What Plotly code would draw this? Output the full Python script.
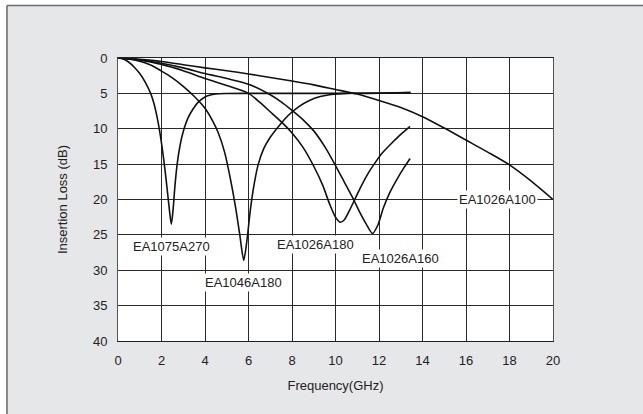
import plotly.graph_objects as go

# ---- data ----
f_a270 = [0, 0.25, 0.5, 0.75, 1.0, 1.25, 1.5, 1.65, 1.8, 1.95, 2.1, 2.22, 2.34, 2.45, 2.53, 2.62, 2.72, 2.85, 3.0, 3.2, 3.45, 3.7, 4.0, 4.5, 5.0, 6, 8, 10, 12, 13.45]
db_a270 = [0, 0.15, 0.6, 1.3, 2.2, 3.4, 5.0, 6.4, 8.4, 11.0, 14.3, 17.4, 20.8, 23.5, 21.5, 18.0, 15.0, 12.4, 10.4, 8.6, 7.2, 6.2, 5.5, 5.1, 5.02, 5.0, 5.0, 5.0, 4.95, 4.9]

f_a46 = [0, 0.5, 1.0, 1.5, 2.0, 2.5, 3.0, 3.5, 4.0, 4.3, 4.6, 4.9, 5.15, 5.4, 5.6, 5.78, 5.92, 6.08, 6.25, 6.45, 6.7, 7.0, 7.4, 7.8, 8.3, 8.8, 9.3, 9.8, 10.5, 11.5, 12.5, 13.45]
db_a46 = [0, 0.12, 0.45, 1.0, 1.85, 2.8, 4.0, 5.4, 7.1, 8.6, 10.5, 13.3, 16.8, 21.0, 25.0, 28.6, 26.0, 21.6, 18.0, 15.0, 12.8, 11.2, 9.6, 8.2, 6.9, 6.0, 5.45, 5.15, 5.0, 5.0, 4.95, 4.9]

f_a180 = [0, 1, 2, 3, 4, 5, 6, 6.5, 7, 7.5, 8, 8.5, 9, 9.4, 9.75, 10.0, 10.2, 10.4, 10.65, 10.9, 11.2, 11.5, 11.8, 12.1, 12.5, 13.0, 13.43]
db_a180 = [0, 0.3, 0.9, 1.8, 2.9, 3.9, 5.0, 6.2, 7.6, 9.0, 10.6, 12.6, 15.3, 17.9, 20.8, 22.5, 23.2, 22.9, 21.5, 19.9, 18.0, 16.3, 14.9, 13.6, 12.3, 10.8, 9.65]

f_a160 = [0, 1, 2, 3, 4, 5, 6, 7, 7.5, 8, 8.5, 9, 9.5, 10, 10.4, 10.8, 11.1, 11.4, 11.7, 11.95, 12.2, 12.5, 12.85, 13.15, 13.43]
db_a160 = [0, 0.25, 0.75, 1.4, 2.2, 2.9, 3.7, 5.2, 6.2, 7.4, 8.7, 10.3, 12.5, 15.2, 17.5, 19.8, 21.7, 23.4, 24.8, 23.6, 21.2, 19.0, 17.0, 15.5, 14.2]

f_a100 = [0, 1, 2, 3, 4, 5, 6, 7, 8, 9, 10, 11, 12, 13, 14, 15, 16, 17, 18, 19, 20]
db_a100 = [0, 0.2, 0.5, 0.95, 1.4, 1.8, 2.25, 2.75, 3.25, 3.8, 4.45, 5.1, 6.0, 7.0, 8.3, 9.9, 11.6, 13.3, 15.1, 17.4, 20.0]

series = [
    ("EA1075A270", f_a270, db_a270),
    ("EA1046A180", f_a46, db_a46),
    ("EA1026A180", f_a180, db_a180),
    ("EA1026A160", f_a160, db_a160),
    ("EA1026A100", f_a100, db_a100),
]

# label anchor positions (data coords)
label_names = ["EA1075A270", "EA1046A180", "EA1026A180", "EA1026A160", "EA1026A100"]
label_x = [2.45, 5.77, 9.1, 13.0, 17.45]
label_y = [26.6, 31.8, 26.4, 28.4, 20.0]

x_ticks = [0, 2, 4, 6, 8, 10, 12, 14, 16, 18, 20]
y_ticks = [0, 5, 10, 15, 20, 25, 30, 35, 40]

FONT = "Arial, Liberation Sans, Helvetica, sans-serif"
BG = "#e6e7e9"
GRID = "#2a2a2a"

fig = go.Figure()
for name, fx, fy in series:
    fig.add_trace(go.Scatter(
        x=fx, y=fy, mode="lines", name=name,
        line=dict(color="#111111", width=1.6, shape="spline", smoothing=0.7),
        showlegend=False, hoverinfo="x+y+name",
    ))

for t, lx, ly in zip(label_names, label_x, label_y):
    fig.add_annotation(
        x=lx, y=ly, xref="x", yref="y", text=t, showarrow=False,
        bgcolor="white", borderpad=1,
        font=dict(family=FONT, size=13, color="#222222"),
    )

# outer frame: white strip top/left, grey border lines (all outside the plot area)
shapes = [
    dict(type="rect", xref="paper", yref="paper", x0=-0.3, x1=1.3, y0=1.1855, y1=1.3,
         fillcolor="white", line=dict(width=0)),
    dict(type="rect", xref="paper", yref="paper", x0=-0.3, x1=-0.2552, y0=-0.35, y1=1.3,
         fillcolor="white", line=dict(width=0)),
    dict(type="line", xref="paper", yref="paper", x0=-0.2552, x1=1.3, y0=1.1855, y1=1.1855,
         line=dict(color="#6e6e6e", width=1.6)),
    dict(type="line", xref="paper", yref="paper", x0=-0.2552, x1=-0.2552, y0=-0.35, y1=1.1855,
         line=dict(color="#6e6e6e", width=1.6)),
]

fig.update_layout(
    width=643, height=414,
    margin=dict(l=118, r=90, t=58, b=73),
    paper_bgcolor=BG, plot_bgcolor="white",
    font=dict(family=FONT, size=13, color="#222222"),
    shapes=shapes,
    xaxis=dict(
        range=[0, 20], tickmode="array", tickvals=x_ticks,
        showgrid=True, gridcolor=GRID, gridwidth=1, zeroline=False,
        showline=True, linecolor="#222222", linewidth=1, mirror=True,
        ticks="outside", ticklen=7, tickcolor="rgba(0,0,0,0)",
        title=dict(text="Frequency(GHz)", font=dict(size=13), standoff=14),
        fixedrange=True, layer="below traces",
    ),
    yaxis=dict(
        range=[40, 0], tickmode="array", tickvals=y_ticks,
        showgrid=True, gridcolor=GRID, gridwidth=1, zeroline=False,
        showline=True, linecolor="#555555", linewidth=1, mirror=True,
        ticks="outside", ticklen=7, tickcolor="rgba(0,0,0,0)",
        title=dict(text="Insertion Loss (dB)", font=dict(size=13), standoff=22),
        fixedrange=True, layer="below traces",
    ),
)

fig.write_html(
    "out.html",
    config={"displayModeBar": False},
    post_script="document.body.style.margin='0px';document.body.style.overflow='hidden';",
)
